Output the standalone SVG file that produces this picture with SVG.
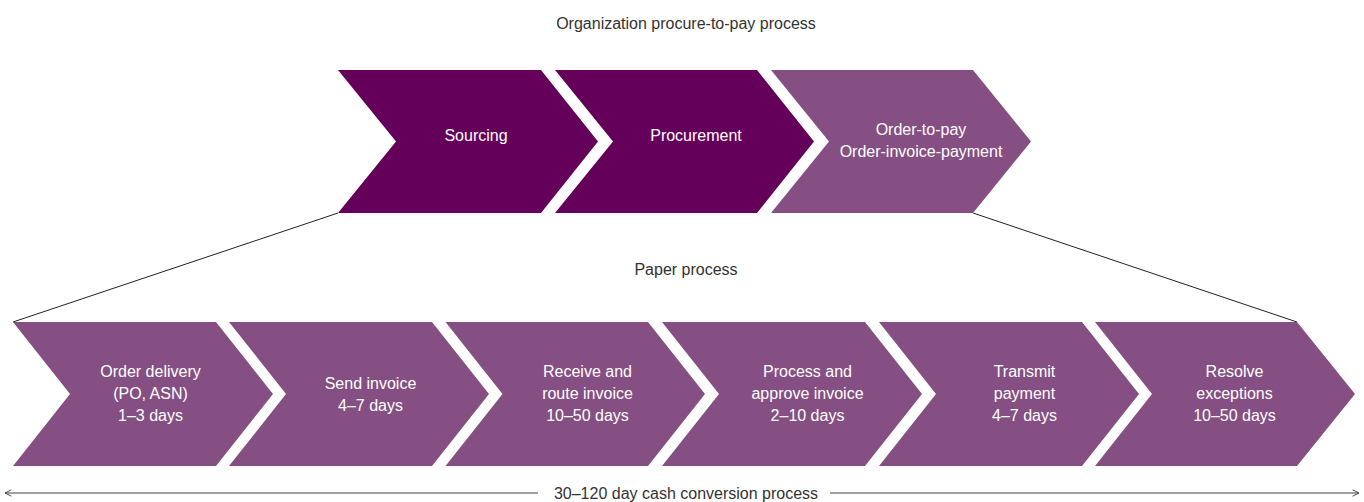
<svg xmlns="http://www.w3.org/2000/svg" width="1364" height="502" viewBox="0 0 1364 502">
  <style>
    .dark { fill: #65005a; }
    .light { fill: #854f83; }
    .lbl { font-family: "Liberation Sans", Arial, sans-serif; font-size: 16px; fill: #ffffff; text-anchor: middle; }
    .cap { font-family: "Liberation Sans", Arial, sans-serif; font-size: 16px; fill: #333333; text-anchor: middle; }
    .conn { stroke: #222222; stroke-width: 1; fill: none; }
    .span { stroke: #444444; stroke-width: 1.2; fill: none; }
  </style>
  <defs>
    <marker id="open-head" viewBox="0 0 10 10" refX="9" refY="5" markerWidth="8" markerHeight="8" orient="auto-start-reverse" markerUnits="userSpaceOnUse">
      <path d="M1,1 L9,5 L1,9" fill="none" stroke="#444444" stroke-width="1.2"/>
    </marker>
  </defs>

  <!-- Captions -->
  <text class="cap" x="686" y="29">Organization procure-to-pay process</text>
  <text class="cap" x="686" y="275">Paper process</text>

  <!-- Zoom-out connectors from the top row to the paper process row -->
  <g id="connectors">
    <line class="conn" x1="338" y1="213" x2="13" y2="322"/>
    <line class="conn" x1="973" y1="213" x2="1297" y2="322"/>
    <line class="span" x1="538" y1="493" x2="5" y2="493" marker-end="url(#open-head)"/>
    <line class="span" x1="830" y1="493" x2="1359" y2="493" marker-end="url(#open-head)"/>
  </g>

  <!-- Top row: organization procure-to-pay stages -->
  <g id="sourcing">
    <path class="dark" d="M338,70 H541 L598,141.5 L541,213 H338 L396,141.5 Z"/>
    <text class="lbl" x="476" y="141">Sourcing</text>
  </g>
  <g id="procurement">
    <path class="dark" d="M555,70 H757 L814,141.5 L757,213 H555 L613,141.5 Z"/>
    <text class="lbl" x="696" y="141">Procurement</text>
  </g>
  <g id="order-to-pay">
    <path class="light" d="M771,70 H973 L1031,141.5 L973,213 H771 L829,141.5 Z"/>
    <text class="lbl" x="921" y="135">Order-to-pay</text>
    <text class="lbl" x="921" y="157">Order-invoice-payment</text>
  </g>

  <!-- Bottom row: paper process steps -->
  <g id="order-delivery">
    <path class="light" d="M13,322 H216 L273,394 L216,466 H13 L70,394 Z"/>
    <text class="lbl" x="150.5" y="377">Order delivery</text>
    <text class="lbl" x="150.5" y="399">(PO, ASN)</text>
    <text class="lbl" x="150.5" y="421">1–3 days</text>
  </g>
  <g id="send-invoice">
    <path class="light" d="M229,322 H432 L489,394 L432,466 H229 L286,394 Z"/>
    <text class="lbl" x="370.5" y="389">Send invoice</text>
    <text class="lbl" x="370.5" y="411">4–7 days</text>
  </g>
  <g id="receive-route">
    <path class="light" d="M445.5,322 H648 L705,394 L648,466 H445.5 L502.5,394 Z"/>
    <text class="lbl" x="587.5" y="377">Receive and</text>
    <text class="lbl" x="587.5" y="399">route invoice</text>
    <text class="lbl" x="587.5" y="421">10–50 days</text>
  </g>
  <g id="process-approve">
    <path class="light" d="M662,322 H865 L922,394 L865,466 H662 L719,394 Z"/>
    <text class="lbl" x="807.5" y="377">Process and</text>
    <text class="lbl" x="807.5" y="399">approve invoice</text>
    <text class="lbl" x="807.5" y="421">2–10 days</text>
  </g>
  <g id="transmit-payment">
    <path class="light" d="M879,322 H1082 L1139,394 L1082,466 H879 L936,394 Z"/>
    <text class="lbl" x="1024.5" y="377">Transmit</text>
    <text class="lbl" x="1024.5" y="399">payment</text>
    <text class="lbl" x="1024.5" y="421">4–7 days</text>
  </g>
  <g id="resolve-exceptions">
    <path class="light" d="M1095,322 H1297 L1355,394 L1297,466 H1095 L1152,394 Z"/>
    <text class="lbl" x="1234.5" y="377">Resolve</text>
    <text class="lbl" x="1234.5" y="399">exceptions</text>
    <text class="lbl" x="1234.5" y="421">10–50 days</text>
  </g>

  <!-- Overall span caption -->
  <text class="cap" x="686" y="499">30–120 day cash conversion process</text>
</svg>
